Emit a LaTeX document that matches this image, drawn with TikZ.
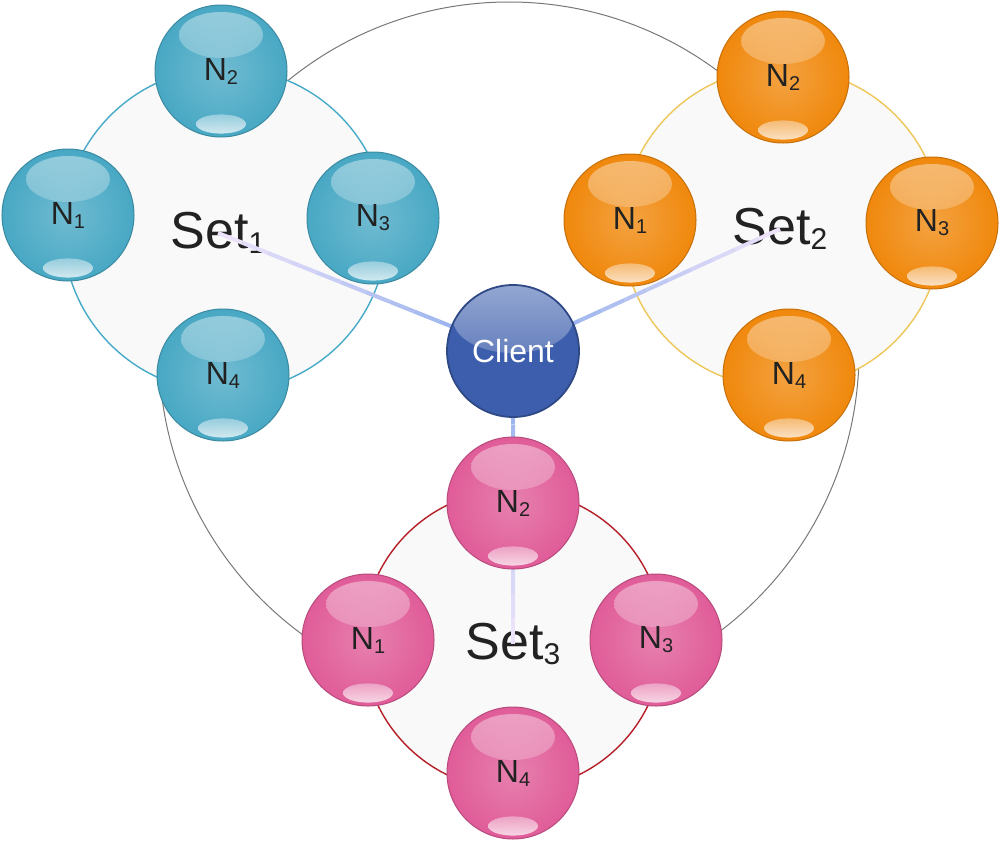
\documentclass[tikz,border=0pt]{standalone}
\usepackage{fontspec}
\setmainfont{Liberation Sans}
\usetikzlibrary{calc}

\definecolor{tealball}{RGB}{72,168,196}
\definecolor{orangeball}{RGB}{240,136,12}
\definecolor{pinkball}{RGB}{224,92,152}
\definecolor{clientblue}{RGB}{60,94,172}
\definecolor{setfill}{RGB}{249,249,249}
\definecolor{ringgray}{RGB}{120,120,120}
\definecolor{ringteal}{RGB}{70,170,200}
\definecolor{ringgold}{RGB}{238,198,90}
\definecolor{ringred}{RGB}{180,30,40}
\definecolor{txtgray}{RGB}{34,34,34}
\definecolor{linkblue}{RGB}{138,170,235}
\definecolor{linklav}{RGB}{236,226,250}

\newcommand\nsub[1]{N\raisebox{-2pt}{\fontsize{10}{10}\selectfont #1}}
\newcommand\setsub[1]{Set\raisebox{-2.5pt}{\fontsize{15}{15}\selectfont #1}}

\tikzset{
	setring/.style={draw=#1, line width=0.7pt, fill=setfill},
	bigring/.style={draw=ringgray, line width=0.5pt},
	setlabel/.style={text=txtgray, font=\fontsize{26}{28}\selectfont, inner sep=0pt},
	link/.style={line width=2pt},
	ball/.style={circle, minimum size=66pt, inner sep=0pt, draw=#1!82!black, line width=0.5pt,
		inner color=#1!78!white, outer color=#1, text=txtgray, font=\fontsize{16}{16}\selectfont,
		path picture={
			\shade[top color=white, bottom color=#1, opacity=0.42]
				([yshift=18pt]path picture bounding box.center) ellipse [x radius=21pt, y radius=11.5pt];
			\shade[top color=#1!45!white, bottom color=white, opacity=0.75]
				([yshift=-26.5pt]path picture bounding box.center) ellipse [x radius=12.5pt, y radius=4.8pt];
		}},
	clientball/.style={circle, minimum size=66pt, inner sep=0pt, draw=clientblue!78!black, line width=0.9pt,
		fill=clientblue, text=white, font=\fontsize{16}{16}\selectfont,
		path picture={
			\shade[top color=clientblue!55!white, bottom color=clientblue]
				([yshift=16pt]path picture bounding box.center) ellipse [x radius=30pt, y radius=17pt];
		}}
}

\begin{document}
\begin{tikzpicture}[x=0.5pt, y=-0.5pt]
	\useasboundingbox (0,0) rectangle (1000,840);
	
	\draw[bigring] (509,352) circle (350);
	
	\draw[setring=ringteal] (225,230) circle (162);
	\draw[setring=ringgold] (782,228) circle (160);
	\draw[setring=ringred] (513,640) circle (150);
	
	\node[setlabel] (s1lab) at (218,233) {\setsub{1}};
	\node[setlabel] (s2lab) at (780,229) {\setsub{2}};
	\node[setlabel] (s3lab) at (513,644) {\setsub{3}};
	
	\coordinate (hub) at (513,351);
	\foreach \e in {s1lab,s2lab,s3lab}{
		\foreach \i in {0,...,11}{
			\pgfmathsetmacro\a{\i/12}
			\pgfmathsetmacro\b{(\i+1)/12}
			\pgfmathtruncatemacro\p{100-\i*100/11}
			\draw[link, linkblue!\p!linklav] ($(hub)!\a!(\e.center)$) -- ($(hub)!\b!(\e.center)$);
		}
	}
	
	\node[ball=tealball] (s1n1) at (68,215) {\nsub{1}};
	\node[ball=tealball] (s1n2) at (221,71) {\nsub{2}};
	\node[ball=tealball] (s1n3) at (373,218) {\nsub{3}};
	\node[ball=tealball] (s1n4) at (223,375) {\nsub{4}};
	
	\node[ball=orangeball] (s2n1) at (630,220) {\nsub{1}};
	\node[ball=orangeball] (s2n2) at (783,77) {\nsub{2}};
	\node[ball=orangeball] (s2n3) at (932,223) {\nsub{3}};
	\node[ball=orangeball] (s2n4) at (789,375) {\nsub{4}};
	
	\node[ball=pinkball] (s3n1) at (368,640) {\nsub{1}};
	\node[ball=pinkball] (s3n2) at (513,503) {\nsub{2}};
	\node[ball=pinkball] (s3n3) at (656,640) {\nsub{3}};
	\node[ball=pinkball] (s3n4) at (513,773) {\nsub{4}};
	
	\node[clientball] (client) at (hub) {Client};
\end{tikzpicture}
\end{document}
